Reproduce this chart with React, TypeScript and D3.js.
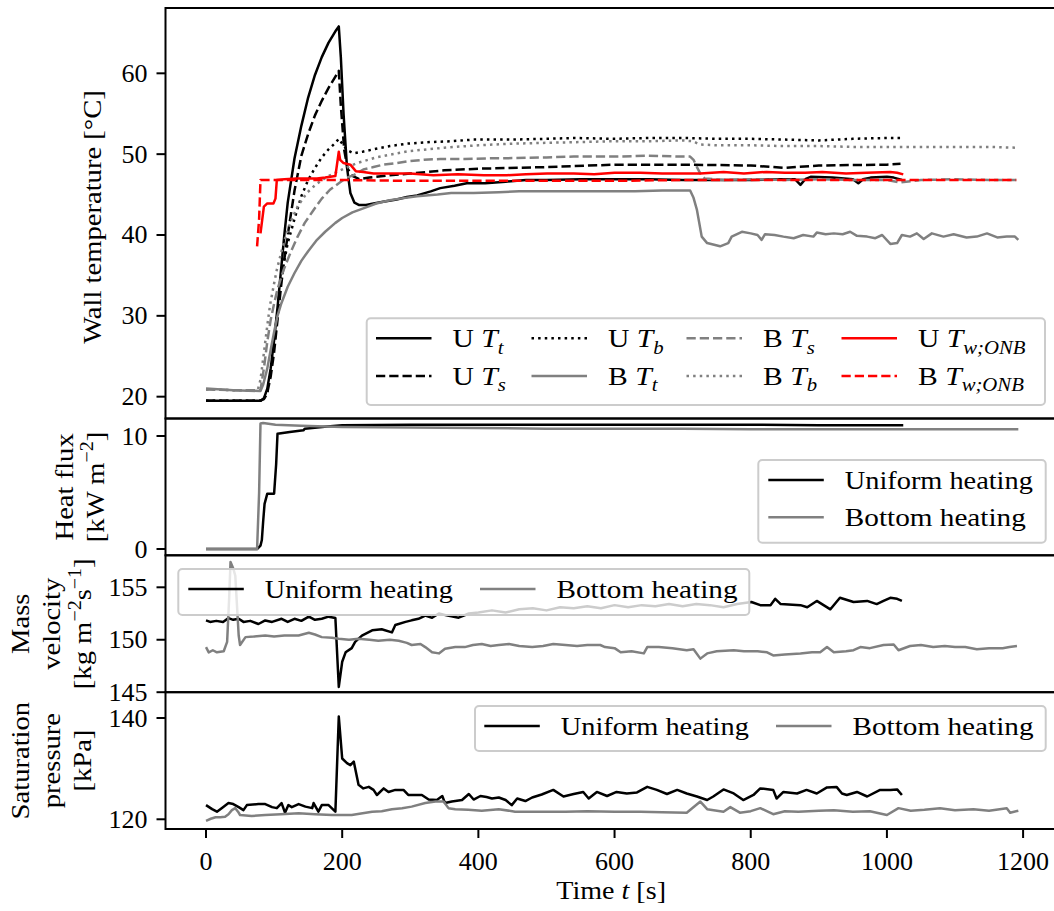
import React from "react";
import * as d3 from "d3";

type P = [number, number];
type Seg = { t: string; i?: boolean; sup?: boolean; sub?: boolean };

// ---------------- tick values ----------------
const X_TICKS = [0, 200, 400, 600, 800, 1000, 1200];
const TEMP_TICKS = [20, 30, 40, 50, 60];
const HF_TICKS = [0, 10];
const MV_TICKS = [145, 150, 155];
const SP_TICKS = [120, 140];

// ---------------- wall temperature [°C] vs time [s] ----------------
const U_Tt: P[] = [
  [0, 19.5], [40, 19.5], [80, 19.5], [85, 19.8], [90, 21], [95, 23.5], [100, 27], [105, 31], [110, 35.5],
  [115, 40], [120, 44], [130, 49.5], [140, 53.5], [150, 57], [160, 59.8], [170, 62], [180, 63.8], [190, 65.2],
  [195, 65.8], [198, 62], [202, 55], [207, 48.4], [212, 45.2], [218, 44], [225, 43.7], [235, 43.7], [246, 43.9],
  [260, 44.1], [280, 44.4], [295, 44.7], [310, 44.9], [330, 45.4], [344, 45.8], [365, 46.1], [383, 46.4],
  [410, 46.4], [440, 46.6], [470, 46.8], [500, 46.8], [550, 46.9], [600, 46.9], [650, 46.9], [700, 46.8],
  [750, 46.8], [800, 46.8], [840, 46.9], [865, 46.9], [873, 46.2], [880, 46.9], [888, 47.2], [920, 47.1],
  [950, 46.9], [958, 46.4], [965, 46.9], [976, 47.1], [1000, 47.2], [1010, 47.1], [1022, 46.8],
];
const U_Ts: P[] = [
  [0, 19.5], [80, 19.5], [85, 19.7], [90, 20.5], [95, 22.5], [100, 25.5], [105, 29.5], [110, 33.5], [115, 37],
  [120, 40], [130, 45.5], [140, 49.8], [150, 52.5], [160, 54.8], [170, 56.6], [180, 58.2], [190, 59.6],
  [195, 60.3], [198, 56], [203, 50.5], [208, 48.2], [215, 47.3], [225, 46.9], [240, 47.1], [270, 47.4],
  [300, 47.6], [350, 48.0], [400, 48.2], [500, 48.4], [600, 48.7], [700, 48.7], [800, 48.6], [850, 48.3],
  [900, 48.6], [1000, 48.7], [1020, 48.8],
];
const U_Tb: P[] = [
  [0, 19.5], [80, 19.5], [85, 19.7], [90, 20.5], [95, 23], [100, 27], [105, 30.5], [110, 34], [115, 36.8],
  [120, 39], [130, 42], [140, 44.8], [150, 46.8], [160, 48.3], [170, 49.6], [180, 50.6], [190, 51.4],
  [195, 51.9], [200, 51.3], [207, 50.5], [217, 50.1], [230, 50.3], [246, 50.6], [270, 51], [295, 51.3],
  [330, 51.5], [360, 51.6], [393, 51.8], [450, 51.8], [500, 51.9], [540, 52.0], [600, 51.9], [650, 52.0],
  [700, 52.0], [750, 51.9], [800, 51.9], [850, 51.8], [900, 51.7], [950, 51.9], [1000, 52.0], [1020, 52.0],
];
const B_Tt: P[] = [
  [0, 21], [40, 20.8], [80, 20.7], [84, 21.5], [90, 23.5], [95, 25.8], [100, 28], [105, 30], [110, 31.4],
  [120, 33.6], [130, 35.3], [140, 36.8], [150, 38], [163, 39.4], [175, 40.4], [190, 41.5], [200, 42.1],
  [215, 42.8], [231, 43.3], [250, 43.9], [270, 44.3], [285, 44.5], [310, 44.8], [340, 45], [360, 45.2],
  [393, 45.2], [430, 45.3], [460, 45.4], [500, 45.4], [550, 45.4], [589, 45.4], [630, 45.4], [670, 45.5],
  [711, 45.5], [716, 44.6], [721, 43.1], [728, 39.8], [736, 39.0], [755, 38.6], [767, 39.0], [772, 39.8],
  [787, 40.4], [800, 40.2], [810, 40.0], [816, 39.4], [821, 40.1], [835, 40.0], [848, 39.8], [863, 39.6],
  [877, 40.0], [892, 39.8], [897, 40.3], [910, 40.1], [922, 40.2], [935, 40.1], [946, 40.4], [956, 39.9],
  [971, 39.8], [983, 39.6], [993, 40.0], [1005, 38.9], [1015, 39.0], [1022, 40.0], [1034, 39.8], [1044, 40.2],
  [1054, 39.5], [1066, 40.2], [1083, 39.8], [1098, 40.1], [1117, 39.7], [1132, 39.8], [1147, 40.2],
  [1162, 39.7], [1176, 39.8], [1188, 39.8], [1193, 39.4],
];
const B_Ts: P[] = [
  [0, 20.9], [40, 20.8], [80, 20.8], [85, 23.5], [90, 26.8], [95, 29.5], [100, 31.5], [105, 33.3], [114, 35.7],
  [125, 38], [134, 39.7], [145, 41.5], [158, 43.1], [170, 44.5], [182, 45.6], [195, 46.4], [207, 47.1],
  [217, 47.4], [231, 48.1], [246, 48.4], [260, 48.7], [280, 48.9], [295, 49.1], [320, 49.3], [344, 49.4],
  [380, 49.4], [420, 49.5], [442, 49.5], [500, 49.6], [540, 49.7], [600, 49.7], [650, 49.8], [700, 49.7],
  [711, 49.7], [716, 49.3], [721, 48.4], [726, 47.6], [732, 47], [760, 46.8], [800, 46.9], [850, 46.8],
  [900, 46.9], [950, 46.8], [1000, 46.8], [1020, 46.5], [1050, 46.8], [1100, 46.9], [1150, 46.8], [1190, 46.8],
];
const B_Tb: P[] = [
  [0, 20.9], [40, 20.8], [76, 20.8], [80, 22.1], [85, 25.4], [90, 28.8], [94, 31.3], [100, 34], [104, 35.7],
  [114, 39], [124, 41.6], [135, 43.6], [148, 45.2], [162, 46.3], [178, 47.2], [197, 48], [222, 48.9],
  [250, 49.6], [280, 50.1], [300, 50.4], [350, 50.8], [400, 51.1], [450, 51.3], [500, 51.4], [550, 51.5],
  [600, 51.6], [650, 51.6], [700, 51.7], [715, 51.6], [725, 51.2], [750, 51.1], [800, 51.1], [850, 51],
  [900, 51], [950, 50.9], [1000, 50.9], [1050, 50.9], [1100, 50.9], [1150, 50.9], [1190, 50.8],
];
const U_Twonb: P[] = [
  [80, 40.2], [85, 43.5], [90, 43.9], [99, 43.9], [102, 44.5], [104, 46.8], [115, 46.9], [134, 47.0],
  [150, 47.0], [163, 47.0], [175, 47.1], [190, 47.3], [195, 50.3], [197, 49.3], [202, 48.9], [212, 48.7],
  [220, 47.9], [231, 47.8], [246, 47.6], [260, 47.6], [300, 47.6], [334, 47.4], [370, 47.5], [408, 47.4],
  [442, 47.4], [470, 47.5], [501, 47.6], [540, 47.6], [570, 47.5], [600, 47.7], [638, 47.7], [670, 47.6],
  [700, 47.6], [726, 47.6], [760, 47.8], [790, 47.6], [823, 47.8], [850, 47.7], [880, 47.7], [905, 47.8],
  [940, 47.6], [970, 47.7], [1005, 47.8], [1015, 47.7], [1024, 47.5],
];
const B_Twonb: P[] = [
  [75, 38.6], [78, 42], [80, 46.8], [150, 46.8], [200, 46.8], [300, 46.7], [400, 46.7], [500, 46.7],
  [600, 46.7], [700, 46.8], [800, 46.8], [900, 46.8], [1000, 46.8], [1100, 46.8], [1190, 46.8],
];

// ---------------- heat flux [kW m-2] ----------------
const HF_U: P[] = [
  [0, 0], [40, 0], [75, 0], [80, 0.3], [82, 0.8], [84, 2.5], [86, 4.0], [90, 4.9], [100, 4.9], [103, 7.5],
  [105, 10.2], [123, 10.35], [143, 10.5], [145, 10.65], [178, 10.85], [200, 10.95], [300, 11.0], [400, 11.0],
  [500, 11.0], [600, 11.0], [700, 11.0], [800, 11.0], [900, 10.95], [1024, 10.95],
];
const HF_B: P[] = [
  [0, 0], [40, 0], [75, 0], [78, 5], [80, 11.1], [84, 11.15], [102, 11.0], [140, 10.9], [200, 10.8],
  [300, 10.75], [400, 10.7], [500, 10.65], [600, 10.65], [700, 10.65], [800, 10.6], [900, 10.6], [1000, 10.6],
  [1100, 10.6], [1193, 10.6],
];

// ---------------- mass velocity [kg m-2 s-1] ----------------
const MV_U: P[] = [
  [0, 151.84], [6, 151.7], [15, 151.8], [25, 151.7], [33, 152.06], [40, 151.9], [48, 152.0], [55, 151.7],
  [65, 151.8], [77, 151.5], [87, 151.84], [97, 151.7], [111, 152.0], [120, 151.7], [130, 152.0], [140, 151.8],
  [151, 152.2], [160, 151.9], [170, 152.0], [180, 152.2], [190, 152.07], [195, 145.5], [200, 147.9],
  [205, 148.8], [214, 149.2], [219, 149.8], [229, 150.4], [244, 150.9], [258, 151.0], [273, 150.7],
  [278, 151.4], [293, 151.7], [302, 151.85], [312, 152.0], [322, 152.3], [332, 152.1], [342, 152.5],
  [355, 152.3], [371, 152.1], [386, 152.5], [400, 152.6], [420, 152.8], [440, 152.6], [460, 152.9],
  [480, 153.0], [500, 152.8], [520, 153.1], [540, 153.0], [560, 153.2], [580, 153.0], [600, 153.3],
  [620, 153.1], [640, 153.3], [660, 153.2], [680, 153.4], [700, 153.2], [720, 153.4], [740, 153.3],
  [760, 153.1], [780, 153.4], [801, 153.6], [814, 153.3], [829, 153.3], [836, 153.9], [844, 153.4],
  [873, 153.3], [883, 153.1], [897, 153.7], [907, 153.3], [917, 152.9], [931, 154.0], [951, 153.6],
  [971, 153.7], [985, 153.4], [995, 153.7], [1005, 154.0], [1015, 153.9], [1022, 153.7],
];
const MV_B: P[] = [
  [0, 149.3], [4, 148.8], [10, 149.0], [16, 148.8], [26, 148.9], [31, 149.8], [34, 154], [36, 157.4],
  [40, 156.8], [43, 156.1], [48, 150.4], [50, 149.5], [58, 150.25], [70, 150.3], [87, 150.4], [100, 150.3],
  [115, 150.4], [136, 150.4], [151, 150.67], [160, 150.5], [170, 150.25], [185, 150.2], [195, 150.1],
  [210, 150.0], [224, 150.1], [240, 150.0], [253, 149.9], [270, 150.0], [283, 149.9], [295, 149.7],
  [302, 149.5], [315, 149.6], [322, 149.3], [332, 148.8], [342, 148.7], [351, 149.15], [366, 149.3],
  [380, 149.3], [392, 149.5], [405, 149.6], [418, 149.4], [430, 149.5], [445, 149.6], [460, 149.4],
  [479, 149.3], [495, 149.4], [510, 149.6], [528, 149.5], [545, 149.4], [560, 149.5], [579, 149.5],
  [586, 149.3], [600, 149.2], [609, 148.8], [625, 148.9], [643, 148.7], [648, 149.3], [665, 149.3],
  [685, 149.2], [706, 149.0], [716, 149.1], [726, 148.2], [736, 148.7], [750, 148.9], [775, 149.0],
  [790, 148.9], [810, 148.9], [824, 148.8], [833, 148.5], [850, 148.6], [873, 148.7], [890, 148.8],
  [902, 148.8], [912, 149.3], [922, 148.8], [940, 148.9], [951, 149.0], [961, 149.3], [975, 149.2],
  [995, 149.5], [1010, 149.55], [1017, 149.0], [1034, 149.4], [1050, 149.5], [1068, 149.3], [1085, 149.4],
  [1100, 149.3], [1115, 149.3], [1132, 149.1], [1150, 149.2], [1170, 149.2], [1180, 149.3], [1191, 149.4],
];

// ---------------- saturation pressure [kPa] ----------------
const SP_U: P[] = [
  [0, 122.8], [9, 122.0], [16, 121.5], [23, 122.2], [33, 123.2], [40, 123.0], [48, 122.4], [55, 121.8],
  [60, 122.8], [77, 123.0], [87, 123.0], [97, 122.4], [104, 122.2], [111, 123.2], [116, 121.3], [121, 122.8],
  [126, 122.4], [136, 123.0], [146, 122.5], [156, 122.2], [158, 123.2], [165, 121.5], [170, 122.8],
  [180, 122.8], [190, 121.5], [195, 140.3], [200, 132.0], [207, 131.1], [212, 130.7], [217, 131.4],
  [224, 126.8], [231, 126.1], [239, 126.4], [246, 125.8], [251, 124.8], [261, 126.1], [268, 125.4],
  [278, 125.8], [290, 125.8], [297, 124.8], [317, 124.8], [327, 123.9], [339, 123.8], [347, 124.6],
  [351, 123.2], [361, 123.5], [376, 123.8], [386, 125.0], [393, 123.9], [403, 124.6], [412, 124.4],
  [420, 124.1], [430, 124.3], [440, 123.8], [449, 122.8], [457, 124.1], [469, 123.6], [479, 124.3],
  [493, 124.9], [510, 125.8], [525, 124.5], [540, 125.0], [554, 125.4], [562, 124.1], [574, 125.4],
  [589, 124.6], [603, 125.4], [618, 125.1], [633, 125.3], [648, 126.4], [662, 125.8], [677, 125.0],
  [692, 125.8], [706, 125.1], [721, 124.5], [736, 123.8], [745, 124.5], [760, 125.9], [775, 125.1],
  [789, 123.8], [804, 124.8], [814, 126.1], [833, 125.8], [838, 124.1], [848, 125.4], [868, 125.1],
  [882, 125.8], [897, 125.1], [912, 126.3], [926, 126.4], [934, 125.1], [941, 124.8], [956, 125.4],
  [971, 124.5], [990, 125.8], [1005, 125.8], [1015, 125.9], [1022, 124.8],
];
const SP_B: P[] = [
  [0, 119.7], [7, 120.1], [14, 120.4], [21, 120.4], [28, 120.5], [33, 121.0], [38, 121.8], [43, 122.2],
  [47, 121.5], [50, 120.85], [67, 120.65], [87, 120.85], [110, 121.0], [136, 121.2], [160, 121.0],
  [185, 120.85], [214, 120.85], [230, 121.2], [244, 121.5], [258, 121.6], [273, 122.0], [288, 122.2],
  [302, 122.5], [322, 123.2], [337, 123.5], [349, 123.5], [356, 122.2], [366, 122.0], [385, 121.9],
  [405, 121.7], [430, 122.0], [454, 121.5], [491, 121.5], [528, 121.5], [560, 121.6], [600, 121.5],
  [638, 121.5], [670, 121.4], [706, 121.3], [726, 123.5], [736, 122.0], [760, 121.5], [770, 122.4],
  [784, 121.3], [800, 121.6], [814, 122.2], [833, 121.0], [850, 121.6], [870, 121.5], [900, 121.7],
  [922, 121.8], [950, 121.5], [975, 121.6], [1000, 120.85], [1017, 122.2], [1035, 121.7], [1055, 121.9],
  [1078, 122.2], [1100, 121.8], [1127, 122.0], [1150, 121.7], [1176, 122.2], [1181, 121.3], [1193, 121.7],
];

// ---------------- styling / layout ----------------
const FONT = "'Liberation Serif', 'Times New Roman', serif";
const FS = 26;
const LW = 2.5;
const DASH = `${3.7 * LW},${1.6 * LW}`;
const DOT = `${LW},${1.65 * LW}`;
const GRAY = "#808080";
const RED = "#ff0000";
const STRETCH = 1.1; // widen Times-metric text towards Computer Modern widths

const X0 = 165.5;
const X1 = 1056.8;
const xScale = d3.scaleLinear().domain([-59.5, 1249.5]).range([X0, X1]);

interface Series { data: P[]; color: string; dash: string | null; label: Seg[] }

const TEMP_SERIES: Series[] = [
  { data: U_Tt, color: "#000", dash: null, label: [{ t: "U " }, { t: "T", i: true }, { t: "t", i: true, sub: true }] },
  { data: U_Ts, color: "#000", dash: DASH, label: [{ t: "U " }, { t: "T", i: true }, { t: "s", i: true, sub: true }] },
  { data: U_Tb, color: "#000", dash: DOT, label: [{ t: "U " }, { t: "T", i: true }, { t: "b", i: true, sub: true }] },
  { data: B_Tt, color: GRAY, dash: null, label: [{ t: "B " }, { t: "T", i: true }, { t: "t", i: true, sub: true }] },
  { data: B_Ts, color: GRAY, dash: DASH, label: [{ t: "B " }, { t: "T", i: true }, { t: "s", i: true, sub: true }] },
  { data: B_Tb, color: GRAY, dash: DOT, label: [{ t: "B " }, { t: "T", i: true }, { t: "b", i: true, sub: true }] },
  { data: U_Twonb, color: RED, dash: null, label: [{ t: "U " }, { t: "T", i: true }, { t: "w;ONB", i: true, sub: true }] },
  { data: B_Twonb, color: RED, dash: DASH, label: [{ t: "B " }, { t: "T", i: true }, { t: "w;ONB", i: true, sub: true }] },
];

function Rich({ segs, fs }: { segs: Seg[]; fs: number }) {
  let cur = 0;
  return (
    <>
      {segs.map((s, k) => {
        const target = s.sup ? -0.4 * fs : s.sub ? 0.24 * fs : 0;
        const dy = target - cur;
        cur = target;
        return (
          <tspan key={k} dy={dy} fontStyle={s.i ? "italic" : "normal"} fontSize={s.sup || s.sub ? fs * 0.7 : fs}>
            {s.t}
          </tspan>
        );
      })}
    </>
  );
}

function LegendBox({ x0, y0, x1, y1 }: { x0: number; y0: number; x1: number; y1: number }) {
  return (
    <rect x={x0} y={y0} width={x1 - x0} height={y1 - y0} rx={4} ry={4} fill="#fff" fillOpacity={0.8}
      stroke="#cccccc" strokeWidth={2} />
  );
}

function LegendEntry({ x, y, color, dash, segs, tl, sx }: { x: number; y: number; color: string; dash: string | null; segs: Seg[]; tl?: number; sx?: number }) {
  return (
    <g>
      <line x1={x} x2={x + 55.5} y1={y} y2={y} stroke={color} strokeWidth={LW} strokeDasharray={dash ?? undefined} />
      <g transform={`translate(${x + 76.5},${y + 9}) scale(${sx ?? 1},1)`}>
        <text x={0} y={0} fontFamily={FONT} fontSize={FS} style={{ whiteSpace: "pre" }}
          textLength={tl} lengthAdjust={tl ? "spacingAndGlyphs" : undefined}>
          <Rich segs={segs} fs={FS} />
        </text>
      </g>
    </g>
  );
}

interface PanelProps {
  id: string; top: number; bottom: number; domain: [number, number]; ticks: number[];
  series: Series[]; ylines: Seg[][]; ybase: number[]; ycenter?: number; children?: React.ReactNode; xAxis?: boolean;
}

function Panel({ id, top, bottom, domain, ticks, series, ylines, ybase, ycenter, children, xAxis }: PanelProps) {
  const y = d3.scaleLinear().domain(domain).range([bottom, top]);
  const line = d3.line<P>().x((d) => xScale(d[0])).y((d) => y(d[1]));
  const cy = ycenter ?? (top + bottom) / 2;
  return (
    <g>
      <defs>
        <clipPath id={id}>
          <rect x={X0} y={top} width={X1 - X0} height={bottom - top} />
        </clipPath>
      </defs>
      <g clipPath={`url(#${id})`}>
        {series.map((s, k) => (
          <path key={k} d={line(s.data) ?? ""} fill="none" stroke={s.color} strokeWidth={LW}
            strokeDasharray={s.dash ?? undefined} strokeLinejoin="round" />
        ))}
      </g>
      {children}
      {ticks.map((t) => (
        <g key={t}>
          <line x1={X0 - 9} x2={X0} y1={y(t)} y2={y(t)} stroke="#000" strokeWidth={2} />
          <text x={X0 - 18} y={y(t) + 8.5} textAnchor="end" fontFamily={FONT} fontSize={FS}>{t}</text>
        </g>
      ))}
      {xAxis && X_TICKS.map((t) => (
        <g key={"x" + t}>
          <line x1={xScale(t)} x2={xScale(t)} y1={bottom} y2={bottom + 9} stroke="#000" strokeWidth={2} />
          <text x={xScale(t)} y={bottom + 41} textAnchor="middle" fontFamily={FONT} fontSize={FS}>{t}</text>
        </g>
      ))}
      <rect x={X0} y={top} width={X1 - X0} height={bottom - top} fill="none" stroke="#000" strokeWidth={2} />
      {ylines.map((segs, k) => (
        <g key={k} transform={`translate(${ybase[k]},${cy}) rotate(-90) scale(${STRETCH},1)`}>
          <text x={0} y={0} textAnchor="middle" fontFamily={FONT} fontSize={FS} style={{ whiteSpace: "pre" }}>
            <Rich segs={segs} fs={FS} />
          </text>
        </g>
      ))}
    </g>
  );
}

export default function App() {
  const P1 = { top: 8, bottom: 418.5 };
  const P2 = { top: 418.5, bottom: 555.3 };
  const P3 = { top: 555.3, bottom: 692.2 };
  const P4 = { top: 692.2, bottom: 829 };
  const uni: Seg[] = [{ t: "Uniform heating" }];
  const bot: Seg[] = [{ t: "Bottom heating" }];
  // top legend: column-major, 4 columns x 2 rows
  const colX = [376, 531.5, 686.5, 841.5];
  const rowY = [338.3, 376];
  return (
    <div style={{ position: "absolute", left: 0, top: 0 }}>
      <svg width={1054} height={911} style={{ display: "block", background: "#fff" }}>
        <rect x={0} y={0} width={1054} height={911} fill="#fff" />
        <Panel id="c1" {...P1} domain={[17.3, 68.08]} ticks={TEMP_TICKS} series={TEMP_SERIES}
          ylines={[[{ t: "Wall temperature [°C]" }]]} ybase={[101]} ycenter={217}>
          <LegendBox x0={366.7} y0={318.3} x1={1045} y1={405} />
          {TEMP_SERIES.map((s, k) => (
            <LegendEntry key={k} x={colX[Math.floor(k / 2)]} y={rowY[k % 2]} color={s.color} dash={s.dash} segs={s.label} sx={1.14} />
          ))}
        </Panel>
        <Panel id="c2" {...P2} domain={[-0.557, 11.55]} ticks={HF_TICKS}
          series={[{ data: HF_U, color: "#000", dash: null, label: uni }, { data: HF_B, color: GRAY, dash: null, label: bot }]}
          ylines={[[{ t: "Heat flux" }], [{ t: "[kW m" }, { t: "−2", sup: true }, { t: "]" }]]} ybase={[72.5, 103.5]}>
          <LegendBox x0={758.3} y0={460} x1={1045.7} y1={542.7} />
          <LegendEntry x={768.3} y={480} color="#000" dash={null} segs={uni} tl={188} />
          <LegendEntry x={768.3} y={517.3} color={GRAY} dash={null} segs={bot} tl={181} />
        </Panel>
        <Panel id="c3" {...P3} domain={[145, 158.05]} ticks={MV_TICKS}
          series={[{ data: MV_U, color: "#000", dash: null, label: uni }, { data: MV_B, color: GRAY, dash: null, label: bot }]}
          ylines={[[{ t: "Mass" }], [{ t: "velocity" }], [{ t: "[kg m" }, { t: "−2", sup: true }, { t: "s" }, { t: "−1", sup: true }, { t: "]" }]]}
          ybase={[29, 60, 91]}>
          <LegendBox x0={178.3} y0={569} x1={749.3} y1={615} />
          <LegendEntry x={188.3} y={589} color="#000" dash={null} segs={uni} tl={188} />
          <LegendEntry x={480} y={589} color={GRAY} dash={null} segs={bot} tl={181} />
        </Panel>
        <Panel id="c4" {...P4} domain={[118.08, 145.1]} ticks={SP_TICKS} xAxis
          series={[{ data: SP_U, color: "#000", dash: null, label: uni }, { data: SP_B, color: GRAY, dash: null, label: bot }]}
          ylines={[[{ t: "Saturation" }], [{ t: "pressure" }], [{ t: "[kPa]" }]]} ybase={[29, 60, 91]}>
          <LegendBox x0={475} y0={706} x1={1045.7} y1={751} />
          <LegendEntry x={484.3} y={726} color="#000" dash={null} segs={uni} tl={188} />
          <LegendEntry x={776} y={726} color={GRAY} dash={null} segs={bot} tl={181} />
        </Panel>
        <g transform={`translate(${(X0 + X1) / 2},899) scale(1.08,1)`}>
          <text x={0} y={0} textAnchor="middle" fontFamily={FONT} fontSize={FS} style={{ whiteSpace: "pre" }}>
            <Rich segs={[{ t: "Time " }, { t: "t", i: true }, { t: " [s]" }]} fs={FS} />
          </text>
        </g>
      </svg>
    </div>
  );
}
